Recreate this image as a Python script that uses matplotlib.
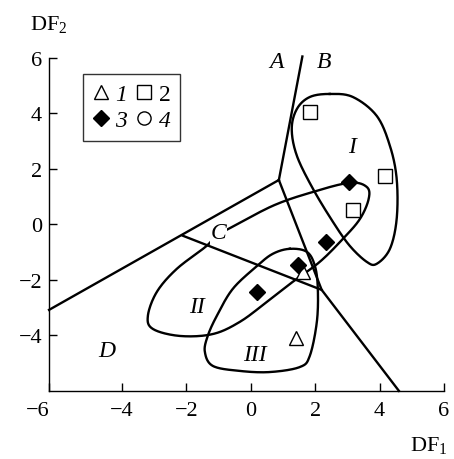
import numpy as np
import matplotlib.pyplot as plt
from matplotlib.lines import Line2D

plt.rcParams['font.family'] = 'Liberation Serif'
plt.rcParams['font.size'] = 16
plt.rcParams['mathtext.fontset'] = 'custom'
plt.rcParams['mathtext.rm'] = 'Liberation Serif'
plt.rcParams['mathtext.it'] = 'Liberation Serif:italic'

# boundary lines (DF1, DF2)
line_ab_x = [1.6, 0.87]
line_ab_y = [6.05, 1.6]
line_left_x = [0.87, -6.27]
line_left_y = [1.6, -3.08]
line_c_x = [-2.11, 2.2]
line_c_y = [-0.41, -2.36]
line_right_x = [0.87, 2.2, 4.6]
line_right_y = [1.6, -2.36, -6.0]

# group outlines
loop1_x = [2.45, 3.17, 3.91, 4.32, 4.53, 4.53, 4.32, 3.91, 3.60, 3.07, 2.55, 1.93, 1.43, 1.27, 1.43, 1.83]
loop1_y = [4.70, 4.59, 3.91, 2.83, 1.64, 0.20, -0.88, -1.42, -1.35, -0.77, 0.09, 1.28, 2.47, 3.44, 4.16, 4.59]
loop2_x = [-0.81, 0.68, 1.93, 3.07, 3.60, 3.66, 3.39, 2.86, 2.14, 1.30, 0.50, -0.34, -1.18, -2.20, -3.04, -3.20, -2.92, -2.30, -1.37, -1.06]
loop2_y = [-0.23, 0.67, 1.17, 1.50, 1.35, 0.92, 0.20, -0.52, -1.35, -2.07, -2.79, -3.51, -3.95, -4.02, -3.77, -3.30, -2.43, -1.60, -0.77, -0.34]
loop3_x = [1.21, 1.74, 1.99, 2.08, 2.05, 1.83, 1.52, 0.59, -0.34, -1.18, -1.43, -1.34, -1.06, -0.56, 0.19, 0.68]
loop3_y = [-0.88, -0.99, -1.50, -2.32, -3.51, -4.74, -5.14, -5.32, -5.28, -5.10, -4.59, -4.02, -3.30, -2.32, -1.50, -1.06]

# samples
g1_x = [1.63, 1.40]
g1_y = [-1.71, -4.09]
g2_x = [1.83, 4.16, 3.17]
g2_y = [4.05, 1.74, 0.52]
g3_x = [3.05, 2.33, 1.47, 0.18]
g3_y = [1.53, -0.62, -1.46, -2.44]

region_labels = ['A', 'B', 'C', 'D', 'I', 'II', 'III']
region_x = [0.8, 2.27, -1.0, -4.47, 3.13, -1.68, 0.12]
region_y = [5.86, 5.86, -0.3, -4.56, 2.79, -2.97, -4.67]


def smooth_loop(xs, ys, n=24):
    pts = np.column_stack([xs, ys])
    m = len(pts)
    t = np.linspace(0, 1, n, endpoint=False)[:, None]
    segs = []
    for i in range(m):
        p0, p1, p2, p3 = pts[(i - 1) % m], pts[i], pts[(i + 1) % m], pts[(i + 2) % m]
        segs.append(0.5 * (2 * p1 + (-p0 + p2) * t
                           + (2 * p0 - 5 * p1 + 4 * p2 - p3) * t ** 2
                           + (-p0 + 3 * p1 - 3 * p2 + p3) * t ** 3))
    segs.append(pts[:1])
    out = np.vstack(segs)
    return out[:, 0], out[:, 1]


fig = plt.figure(figsize=(4.54, 4.60), dpi=100)
ax = fig.add_axes([0.108, 0.148, 0.870, 0.724])

lw = 1.7
for xs, ys in [(line_ab_x, line_ab_y), (line_left_x, line_left_y),
               (line_c_x, line_c_y), (line_right_x, line_right_y)]:
    ax.plot(xs, ys, color='k', lw=lw, clip_on=False)

for xs, ys in [(loop1_x, loop1_y), (loop2_x, loop2_y), (loop3_x, loop3_y)]:
    sx, sy = smooth_loop(xs, ys)
    ax.plot(sx, sy, color='k', lw=lw)

ms = 9.5
ax.plot(g1_x, g1_y, '^', ms=ms, mfc='white', mec='k', mew=1.0, ls='none', zorder=5)
ax.plot(g2_x, g2_y, 's', ms=ms, mfc='white', mec='k', mew=1.0, ls='none', zorder=5)
ax.plot(g3_x, g3_y, 'D', ms=8, mfc='k', mec='k', mew=1.0, ls='none', zorder=5)

for lab, x, y in zip(region_labels, region_x, region_y):
    kw = {}
    if lab == 'C':
        kw['bbox'] = dict(facecolor='white', edgecolor='none', pad=0.5)
    ax.text(x, y, lab, style='italic', fontsize=17, ha='center', va='center', zorder=6, **kw)

# legend
handles = [
    Line2D([], [], marker='^', ms=ms, mfc='white', mec='k', ls='none'),
    Line2D([], [], marker='D', ms=8, mfc='k', mec='k', ls='none'),
    Line2D([], [], marker='s', ms=ms, mfc='white', mec='k', ls='none'),
    Line2D([], [], marker='o', ms=ms, mfc='white', mec='k', ls='none'),
]
leg = ax.legend(handles, ['1', '3', '2', '4'], ncol=2, loc='upper left',
                bbox_to_anchor=(0.086, 0.952), frameon=True, fancybox=False,
                edgecolor='k', handlelength=0.7, handletextpad=0.25,
                columnspacing=0.4, borderpad=0.4, labelspacing=0.2,
                fontsize=17, borderaxespad=0)
leg.get_frame().set_linewidth(1.0)
for txt in leg.get_texts():
    if txt.get_text() != '2':
        txt.set_style('italic')

ax.set_xlim(-6.27, 6)
ax.set_ylim(-6, 6)
ax.set_xticks([-6.27, -4, -2, 0, 2, 4, 6])
ax.set_xticklabels(['\u22126', '\u22124', '\u22122', '0', '2', '4', '6'])
ax.set_yticks([-4, -2, 0, 2, 4, 6])
ax.set_yticklabels(['\u22124', '\u22122', '0', '2', '4', '6'])
ax.xaxis.get_majorticklabels()[0].set_ha('right')
ax.tick_params(direction='in', length=6, width=1.0, labelsize=16)
ax.tick_params(axis='x', pad=7)
ax.tick_params(axis='y', pad=5)
for s in ['top', 'right']:
    ax.spines[s].set_visible(False)
for s in ['left', 'bottom']:
    ax.spines[s].set_linewidth(1.0)

fig.text(0.066, 0.935, r'DF$_2$', fontsize=16, va='baseline', ha='left')
fig.text(0.903, 0.02, r'DF$_1$', fontsize=16, va='baseline', ha='left')

fig.savefig('out.png', dpi=100)
